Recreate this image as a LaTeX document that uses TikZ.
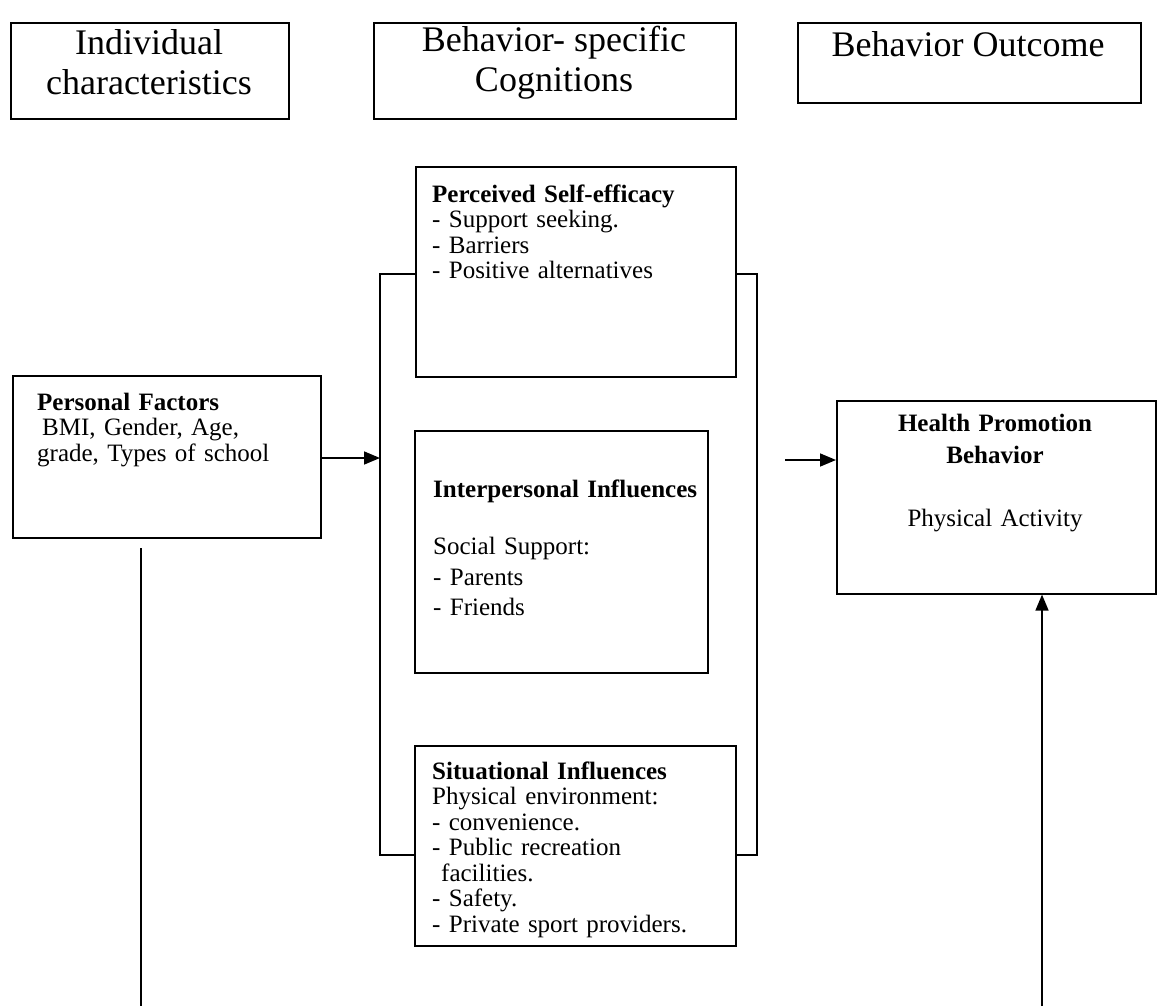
\documentclass[tikz,border=0pt]{standalone}
\usepackage{fontspec}
\setmainfont{Liberation Serif}
\usetikzlibrary{arrows.meta,calc}
\tikzset{
  x=1pt,y=-1pt,
  box/.style={draw, line width=1.6pt, inner sep=0pt, anchor=north west},
  toptxt/.style={inner sep=0pt, align=center, font=\fontsize{36}{40}\selectfont},
  intxt/.style={inner sep=0pt, anchor=base west, align=left, text width=330pt, font=\fontsize{25}{25.5}\selectfont},
  link/.style={line width=1.6pt},
  arr/.style={line width=1.6pt, -{Triangle[length=16pt,width=13pt]}}
}
\begin{document}
\begin{tikzpicture}
\useasboundingbox (0,0) rectangle (1158,1006);
% top header boxes
\node[box, minimum width=278pt, minimum height=96pt] (ic) at (10,22) {};
\node[box, minimum width=362pt, minimum height=96pt] (bc) at (373,22) {};
\node[box, minimum width=343pt, minimum height=80pt] (bo) at (797,22) {};
\node[toptxt] (ict) at (149,62) {Individual\\characteristics};
\node[toptxt] (bct) at (554,63) {Behavior- specific\\Cognitions};
\node[toptxt] (bot) at (968,44) {Behavior Outcome};
% inner boxes
\node[box, minimum width=320pt, minimum height=210pt] (pse) at (415,166) {};
\node[box, minimum width=293pt, minimum height=242pt] (ipi) at (414,430) {};
\node[box, minimum width=321pt, minimum height=200pt] (sit) at (414,745) {};
\node[box, minimum width=308pt, minimum height=162pt] (pf) at (12,375) {};
\node[box, minimum width=319pt, minimum height=193pt] (hp) at (836,400) {};
% texts
\node[intxt] (pset) at (432,202) {\textbf{Perceived Self-efficacy}\\- Support seeking.\\- Barriers\\- Positive alternatives};
\node[intxt] (ipit) at (433,497) {\textbf{Interpersonal Influences}\\[32pt]Social Support:\\[5pt]- Parents\\[5pt]- Friends};
\node[intxt] (sitt) at (432,779) {\textbf{Situational Influences}\\Physical environment:\\- convenience.\\- Public recreation\\\hspace*{9pt}facilities.\\- Safety.\\- Private sport providers.};
\node[intxt] (pft) at (37,410) {\textbf{Personal Factors}\\\hspace*{5pt}BMI, Gender, Age,\\grade, Types of school};
\node[inner sep=0pt, anchor=base, align=center, text width=319pt, font=\fontsize{25}{32}\selectfont] (hpt) at (995,431) {\textbf{Health Promotion}\\\textbf{Behavior}\\[31pt]Physical Activity};
% brackets
\coordinate (lb) at (380,0);
\coordinate (rb) at (757,0);
\draw[link] (pse.west |- 0,274) -- (lb |- 0,274) -- (lb |- 0,855) -- (sit.west |- 0,855);
\draw[link] (pse.east |- 0,274) -- (rb |- 0,274) -- (rb |- 0,855) -- (sit.east |- 0,855);
% arrows
\draw[arr] (pf.east |- 0,458) -- (lb |- 0,458);
\coordinate (ra) at (785,460);
\draw[arr] (ra) -- (ra -| hp.west);
\coordinate (bl) at (141,1006);
\coordinate (br) at (1042,1006);
\draw[link] (bl |- 0,548) -- (bl);
\draw[arr] (br) -- (br |- hp.south);
\end{tikzpicture}
\end{document}
